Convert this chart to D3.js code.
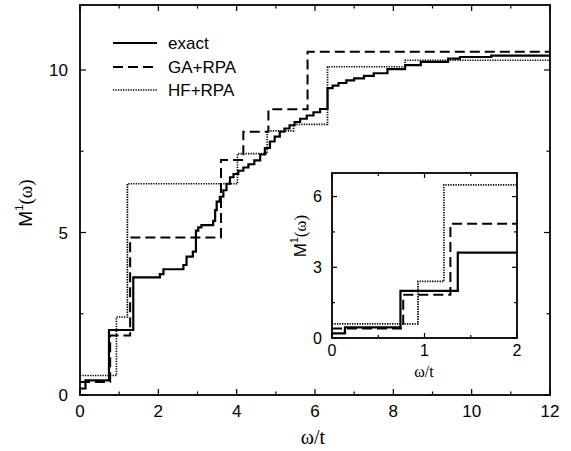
<!DOCTYPE html>
<html>
<head>
<meta charset="utf-8">
<script src="https://cdn.jsdelivr.net/npm/d3@7/dist/d3.min.js"></script>
<style>
  html, body { margin: 0; padding: 0; background: #fff; }
  svg { display: block; }
</style>
</head>
<body>
<div id="chart"></div>
<script>
// cumulative spectral weight M^1(omega): step points [omega/t, M]
const exactSteps = [
  [0, 0.2], [0.14, 0.45], [0.74, 2.0], [1.36, 3.62], [2.04, 3.72], [2.13, 3.87],
  [2.64, 4.0], [2.72, 4.26], [2.88, 4.41], [2.96, 5.06], [3.02, 5.16], [3.1, 5.23],
  [3.4, 5.36], [3.45, 5.69], [3.49, 5.95], [3.57, 6.1], [3.66, 6.3], [3.74, 6.5],
  [3.83, 6.7], [3.92, 6.8], [4.04, 6.9], [4.17, 7.0], [4.3, 7.1], [4.45, 7.22],
  [4.6, 7.4], [4.72, 7.6], [4.85, 7.8], [4.97, 7.95], [5.1, 8.1], [5.22, 8.2],
  [5.35, 8.3], [5.48, 8.4], [5.62, 8.5], [5.79, 8.6], [5.96, 8.7], [6.13, 8.8],
  [6.32, 9.44], [6.45, 9.52], [6.6, 9.6], [6.8, 9.68], [7.0, 9.74], [7.25, 9.82],
  [7.5, 9.9], [7.85, 10.03], [8.3, 10.15], [8.7, 10.25], [9.4, 10.35], [9.7, 10.4],
  [10.5, 10.44], [12, 10.47]
];
const gaSteps = [
  [0, 0.4], [0.77, 1.83], [1.28, 4.85], [3.6, 7.23], [4.17, 8.1], [4.81, 8.79],
  [5.81, 10.56], [12, 10.56]
];
const hfSteps = [
  [0, 0.6], [0.93, 2.4], [1.21, 6.5], [4.02, 7.43], [4.78, 8.13], [5.45, 8.33],
  [6.32, 10.1], [8.3, 10.3], [12, 10.3]
];

const legendLabels = ['exact', 'GA+RPA', 'HF+RPA'];
const mainXTicks = [0, 2, 4, 6, 8, 10, 12];
const mainXMinor = [1, 3, 5, 7, 9, 11];
const mainYTicks = [0, 5, 10];
const mainYMinor = [2.5, 7.5];
const insetXTicks = [0, 1, 2];
const insetXMinor = [0.5, 1.5];
const insetYTicks = [0, 3, 6];
const insetYMinor = [1.5, 4.5];

const W = 571, H = 451;
const SANS = '"Liberation Sans", Arial, Helvetica, sans-serif';
const SERIF = '"Liberation Serif", "Times New Roman", serif';

const series = [
  { data: exactSteps, width: 2.2, dash: null },
  { data: gaSteps, width: 2.0, dash: '10 5' },
  { data: hfSteps, width: 1.7, dash: '1.3 1.2' }
];

const svg = d3.select('#chart').append('svg')
  .attr('width', W).attr('height', H)
  .attr('viewBox', `0 0 ${W} ${H}`);

function panel(box, xDom, yDom, t, id) {
  const x = d3.scaleLinear().domain(xDom).range([box.x0, box.x1]);
  const y = d3.scaleLinear().domain(yDom).range([box.y1, box.y0]);

  svg.append('rect')
    .attr('x', box.x0).attr('y', box.y0)
    .attr('width', box.x1 - box.x0).attr('height', box.y1 - box.y0)
    .attr('fill', '#fff');

  svg.append('clipPath').attr('id', id)
    .append('rect')
    .attr('x', box.x0).attr('y', box.y0)
    .attr('width', box.x1 - box.x0).attr('height', box.y1 - box.y0);

  const line = d3.line().curve(d3.curveStepAfter)
    .x(d => x(d[0])).y(d => y(d[1]));

  const g = svg.append('g').attr('clip-path', `url(#${id})`);
  series.forEach(s => {
    g.append('path')
      .attr('d', line(s.data))
      .attr('fill', 'none')
      .attr('stroke', '#000')
      .attr('stroke-width', s.width)
      .attr('stroke-dasharray', s.dash);
  });

  // mirrored inward ticks on all four sides
  const tk = svg.append('g').attr('stroke', '#000').attr('stroke-width', 1.2);
  const xt = t.xMajor.map(v => [v, t.major]).concat(t.xMinor.map(v => [v, t.minor]));
  const yt = t.yMajor.map(v => [v, t.major]).concat(t.yMinor.map(v => [v, t.minor]));
  xt.forEach(([v, L]) => {
    tk.append('line').attr('x1', x(v)).attr('x2', x(v)).attr('y1', box.y1).attr('y2', box.y1 - L);
    tk.append('line').attr('x1', x(v)).attr('x2', x(v)).attr('y1', box.y0).attr('y2', box.y0 + L);
  });
  yt.forEach(([v, L]) => {
    tk.append('line').attr('y1', y(v)).attr('y2', y(v)).attr('x1', box.x0).attr('x2', box.x0 + L);
    tk.append('line').attr('y1', y(v)).attr('y2', y(v)).attr('x1', box.x1).attr('x2', box.x1 - L);
  });

  svg.append('rect')
    .attr('x', box.x0).attr('y', box.y0)
    .attr('width', box.x1 - box.x0).attr('height', box.y1 - box.y0)
    .attr('fill', 'none').attr('stroke', '#000').attr('stroke-width', 1.8);

  t.xMajor.forEach(v => {
    svg.append('text')
      .attr('x', x(v)).attr('y', box.y1 + t.xLabelDy)
      .attr('text-anchor', 'middle')
      .attr('font-family', SANS).attr('font-size', t.fs)
      .text(v);
  });
  t.yMajor.forEach(v => {
    svg.append('text')
      .attr('x', box.x0 - t.yLabelDx).attr('y', y(v))
      .attr('dy', '0.36em')
      .attr('text-anchor', 'end')
      .attr('font-family', SANS).attr('font-size', t.fs)
      .text(v);
  });
  return { x, y };
}

function mLabel(cx, cy, fs) {
  const tx = svg.append('text')
    .attr('transform', `translate(${cx},${cy}) rotate(-90)`)
    .attr('text-anchor', 'middle')
    .attr('font-size', fs);
  tx.append('tspan').attr('font-family', SANS).text('M');
  tx.append('tspan').attr('font-family', SANS).attr('font-size', fs * 0.6)
    .attr('dy', -fs * 0.45).text('1');
  tx.append('tspan').attr('font-family', SERIF).attr('dy', fs * 0.45).text('(ω)');
}

// main panel
const mainBox = { x0: 80, x1: 550, y0: 5, y1: 395 };
panel(mainBox, [0, 12], [0, 12], {
  xMajor: mainXTicks, xMinor: mainXMinor, yMajor: mainYTicks, yMinor: mainYMinor,
  major: 6, minor: 3.5, fs: 17, xLabelDy: 22, yLabelDx: 12
}, 'clipMain');

svg.append('text')
  .attr('x', 313).attr('y', 444)
  .attr('text-anchor', 'middle')
  .attr('font-family', SERIF).attr('font-size', 20)
  .text('ω/t');
mLabel(32, 203, 19);

// legend
const legY = [43, 67, 90];
legendLabels.forEach((lab, i) => {
  const s = series[i];
  svg.append('line')
    .attr('x1', 113).attr('x2', 157).attr('y1', legY[i]).attr('y2', legY[i])
    .attr('stroke', '#000').attr('stroke-width', s.width)
    .attr('stroke-dasharray', s.dash);
  svg.append('text')
    .attr('x', 168).attr('y', legY[i]).attr('dy', '0.36em')
    .attr('font-family', SANS).attr('font-size', 17)
    .text(lab);
});

// inset panel
const insetBox = { x0: 332, x1: 517, y0: 173, y1: 338 };
panel(insetBox, [0, 2], [0, 7], {
  xMajor: insetXTicks, xMinor: insetXMinor, yMajor: insetYTicks, yMinor: insetYMinor,
  major: 5, minor: 3, fs: 16, xLabelDy: 18, yLabelDx: 10
}, 'clipInset');

svg.append('text')
  .attr('x', 424).attr('y', 377)
  .attr('text-anchor', 'middle')
  .attr('font-family', SERIF).attr('font-size', 16)
  .text('ω/t');
mLabel(306, 236, 17);
</script>
</body>
</html>
